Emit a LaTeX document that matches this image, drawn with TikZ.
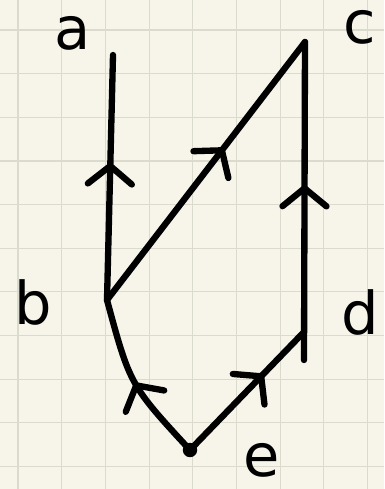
\documentclass[tikz,border=0pt]{standalone}
\usepackage{fontspec}
\setmainfont{DejaVu Sans}
\usetikzlibrary{arrows.meta,decorations.markings}
\definecolor{paper}{RGB}{247,245,234}
\definecolor{gridgray}{RGB}{218,218,205}

\begin{document}
\begin{tikzpicture}[x=0.025cm,y=-0.025cm,
  gridline/.style={draw=gridgray,line width=0.8pt},
  edge/.style={line width=4.5pt,line cap=round,line join=round},
  midarrow/.style={postaction={decorate},
    decoration={markings,mark=at position #1 with {\arrow{Straight Barb[length=0.45cm,width=1.1cm,round]}}}},
  lbl/.style={font=\fontsize{42}{46}\selectfont,inner sep=0pt}
]

% Paper
\useasboundingbox (0,0) rectangle (384,489);
\fill[paper] (0,0) rectangle (384,489);
\foreach \k in {0,...,8} { \draw[gridline] ({18+\k*43.7},0) -- ({18+\k*43.7},489); }
\foreach \k in {0,...,10} { \draw[gridline] (0,{30+\k*43.65}) -- (384,{30+\k*43.65}); }

% Vertices
\coordinate (a) at (113,55);
\coordinate (b) at (107,300);
\coordinate (c) at (305,42);
\coordinate (d) at (303,333);
\coordinate (dtail) at (304,360);
\coordinate (e) at (190,450);

% Edges
\draw[edge,midarrow=0.56] (b) -- (a);
\draw[edge,midarrow=0.59] (b) -- (c);
\draw[edge,midarrow=0.55] (dtail) -- (c);
\draw[edge,midarrow=0.5] (e) .. controls (130,385) .. (b);
\draw[edge,midarrow=0.65] (e) -- (d);
\fill (e) circle[radius=0.18cm];

% Labels
\node[lbl] (la) at (73,33) {a};
\node[lbl] (lb) at (33,302) {b};
\node[lbl] (lc) at (360,27) {c};
\node[lbl] (ld) at (360,312) {d};
\node[lbl] (le) at (262,460) {e};

\end{tikzpicture}
\end{document}
